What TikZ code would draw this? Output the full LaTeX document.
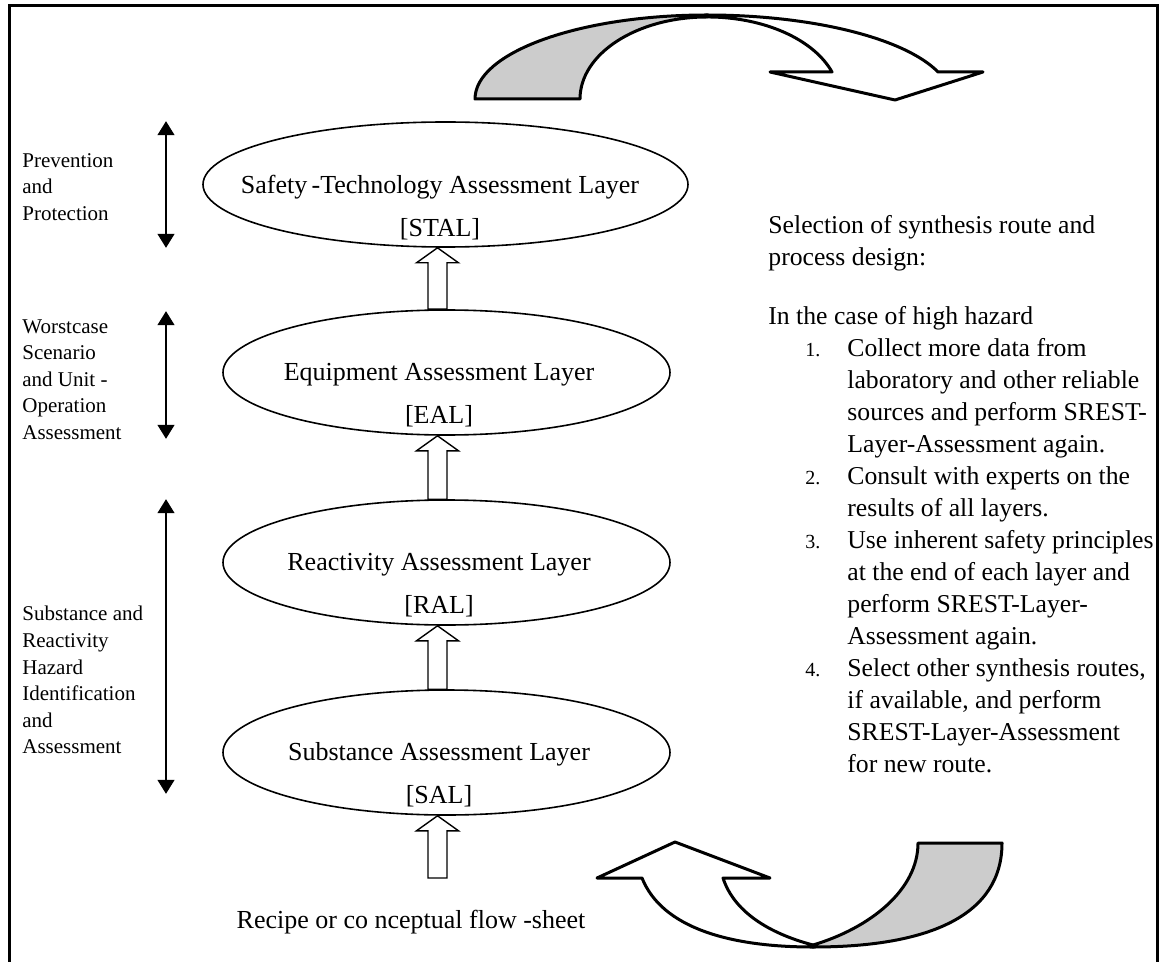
\documentclass[tikz,border=0pt]{standalone}
\usepackage{fontspec}
\setmainfont{Liberation Serif}
\usetikzlibrary{shapes.geometric,arrows.meta,calc}

\newcommand{\stepno}[1]{\hspace*{18.5pt}\makebox[21pt][l]{\fontsize{10}{16}\selectfont #1}}
\newcommand{\wrapin}{\hspace*{39.5pt}}

\begin{document}
\begin{tikzpicture}[x=0.5pt,y=-0.5pt,
  stage/.style={ellipse,draw,line width=0.8pt,inner sep=0pt,minimum height=62.5pt},
  stagetext/.style={align=center,inner sep=0pt,anchor=north,font=\fontsize{13}{21.5}\selectfont},
  groupname/.style={align=left,inner sep=0pt,anchor=north west,font=\fontsize{10.5}{13.3}\selectfont},
  reach/.style={{Triangle[length=7pt,width=8.5pt]}-{Triangle[length=7pt,width=8.5pt]},line width=0.7pt},
  lift/.style={line width=0.7pt,to path={let \p1=(\tikztostart),\p2=(\tikztotarget) in
    (\x1-4.75pt,\y1) -- (\x1-4.75pt,\y2-7.5pt) -- (\x1-10.5pt,\y2-7.5pt) -- (\x1,\y2)
    -- (\x1+10.5pt,\y2-7.5pt) -- (\x1+4.75pt,\y2-7.5pt) -- (\x1+4.75pt,\y1) -- cycle}},
  ribbon/.style={line width=1.5pt,line join=round}]
\useasboundingbox (0,0) rectangle (1160,962);
\draw[line width=1.5pt] (9,962) -- (9,6) -- (1157,6) -- (1157,962);

\node[stage,minimum width=242.5pt] (stal) at (445.5,184.5) {};
\node[stage,minimum width=223.5pt] (eal) at (446.5,372.5) {};
\node[stage,minimum width=223.5pt] (ral) at (446.5,562.5) {};
\node[stage,minimum width=223.5pt] (sal) at (446.5,752.5) {};

\node[stagetext] (stal-t) at (440,174.5) {Safety\,-Technology Assessment Layer\\{[STAL]}};
\node[stagetext] (eal-t) at (439,362.5) {Equipment Assessment Layer\\{[EAL]}};
\node[stagetext] (ral-t) at (439,552.5) {Reactivity Assessment Layer\\{[RAL]}};
\node[stagetext] (sal-t) at (439,742.5) {Substance Assessment Layer\\{[SAL]}};

\node[anchor=base,inner sep=0pt,font=\fontsize{13}{16}\selectfont] (recipe) at (411,928) {Recipe or co nceptual flow -sheet};

\coordinate (axis) at (437.5,0);
\coordinate (feed) at (437.5,878);
\draw[lift] (axis |- eal.north) to (axis |- stal.south);
\draw[lift] (axis |- ral.north) to (axis |- eal.south);
\draw[lift] (axis |- sal.north) to (axis |- ral.south);
\draw[lift] (feed) to (axis |- sal.south);

\node[groupname] (prev) at (22,153) {Prevention\\and\\Protection};
\node[groupname] (worst) at (22,319) {Worstcase\\Scenario\\and Unit -\\Operation\\Assessment};
\node[groupname] (subst) at (22,606) {Substance and\\Reactivity\\Hazard\\Identification\\and\\Assessment};

\coordinate (lane) at (166,0);
\draw[reach] (lane |- stal.north) -- (lane |- stal.south);
\draw[reach] ([yshift=-1pt]lane |- eal.north) -- ([yshift=-1.5pt]lane |- eal.south);
\draw[reach] (lane |- ral.north) -- ([yshift=11pt]lane |- sal.south);

\node[anchor=north west,align=left,inner sep=0pt,font=\fontsize{12.85}{16}\selectfont] (route) at (768,215) {%
Selection of synthesis route and\\
process design:\\[13.5pt]
In the case of high hazard\\
\stepno{1.}Collect more data from\\
\wrapin laboratory and other reliable\\
\wrapin sources and perform SREST-\\
\wrapin Layer-Assessment again.\\
\stepno{2.}Consult with experts on the\\
\wrapin results of all layers.\\
\stepno{3.}Use inherent safety principles\\
\wrapin at the end of each layer and\\
\wrapin perform SREST-Layer-\\
\wrapin Assessment again.\\
\stepno{4.}Select other synthesis routes,\\
\wrapin if available, and perform\\
\wrapin SREST-Layer-Assessment\\
\wrapin for new route.};

\filldraw[ribbon,fill=gray!40] (475,99) arc[start angle=180,end angle=270,x radius=232,y radius=84]
  -- (707,17) arc[start angle=270,end angle=180,x radius=127,y radius=82] -- cycle;
\draw[ribbon,fill=white] (707,15) arc[start angle=270,end angle=341.25,x radius=244,y radius=84]
  -- (983,72) -- (895,100) -- (770,72) -- (832,72)
  arc[start angle=340.8,end angle=270,x radius=132,y radius=82] -- cycle;

\filldraw[ribbon,fill=gray!40] (1002,843) .. controls (1002,915) and (930,947) .. (813,947)
  -- (813,945) .. controls (870,928) and (918,890) .. (918,843) -- cycle;
\draw[ribbon,fill=white] (813,947) .. controls (730,947) and (662,928) .. (642,878)
  -- (597,878) -- (675,842) -- (770,878) -- (723,878)
  .. controls (735,915) and (775,935) .. (813,945) -- cycle;
\end{tikzpicture}
\end{document}
